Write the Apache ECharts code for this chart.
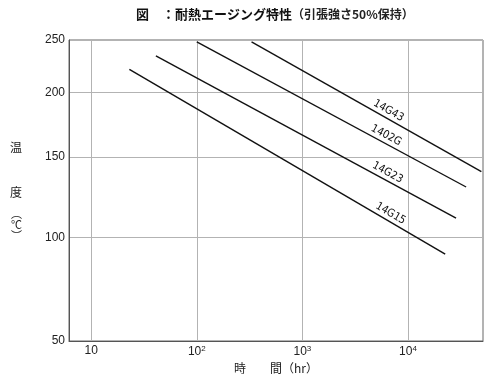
<!DOCTYPE html>
<html>
<head>
<meta charset="utf-8">
<script src="https://cdn.jsdelivr.net/npm/echarts@6/dist/echarts.min.js"></script>
<style>html,body{margin:0;padding:0;background:#fff;}#c{width:500px;height:382px;}</style>
</head>
<body>
<div id="c"></div>
<script>
// ---- data ----
const seriesNames = ['14G43', '1402G', '14G23', '14G15'];
const startHours = [330, 100, 41, 23];
const startTemps = [248, 248, 234, 221];
const endHours = [49500, 35500, 28500, 22500];
const endTemps = [140, 130, 111, 91];
const yTicks = [50, 100, 150, 200, 250];
const xTicks = [10, 100, 1000, 10000];
const xTickLabels = ['10', '10|2', '10|3', '10|4'];

// Arrhenius-type temperature scale (reciprocal temperature)
const OFFS = 300;
const f = T => 1000 / (T + OFFS);
const finv = u => 1000 / u - OFFS;

const labelFont = '"DejaVu Sans Condensed","Liberation Sans Narrow","DejaVu Sans",sans-serif';
const baseFont = '"Liberation Sans","Noto Sans CJK JP",sans-serif';

const series = seriesNames.map((name, i) => ({
  name: name,
  type: 'line',
  symbol: 'none',
  silent: true,
  lineStyle: { color: '#111', width: 1.4 },
  data: [[startHours[i], f(startTemps[i])], [endHours[i], f(endTemps[i])]]
}));

const option = {
  animation: false,
  backgroundColor: '#fff',
  title: {
    text: '{b|図　：耐熱エージング特性}{n|（引張強さ50%保持）}',
    left: 131, top: 3,
    textStyle: {
      rich: {
        b: { fontSize: 13, fontWeight: 'bold', color: '#111', fontFamily: '"Noto Sans CJK JP",sans-serif' },
        n: { fontSize: 12, color: '#222', fontFamily: '"Noto Sans CJK JP",sans-serif' }
      }
    }
  },
  grid: { left: 69, right: 17, top: 40, bottom: 41, show: true, borderColor: '#666', borderWidth: 1, containLabel: false },
  xAxis: {
    type: 'log', logBase: 10,
    min: Math.pow(10, 0.79), max: Math.pow(10, 4.71),
    name: '時　　間（hr）', nameLocation: 'middle', nameGap: 15,
    nameTextStyle: { fontSize: 12, color: '#222', fontFamily: '"Noto Sans CJK JP",sans-serif' },
    axisLine: { lineStyle: { color: '#555', width: 1 } },
    axisTick: { show: false },
    splitLine: { show: true, lineStyle: { color: '#b3b3b3', width: 1 } },
    axisLabel: {
      margin: 4, color: '#222', fontSize: 12, fontFamily: baseFont,
      showMinLabel: false, showMaxLabel: false,
      formatter: v => {
        const k = xTicks.findIndex(t => Math.abs(t - v) / t < 1e-6);
        if (k < 0) return '';
        const parts = xTickLabels[k].split('|');
        return parts.length > 1 ? '{m|' + parts[0] + '}{s|' + parts[1] + '}' : '{m|' + parts[0] + '}';
      },
      rich: {
        m: { fontSize: 12, fontFamily: baseFont, color: '#222' },
        s: { fontSize: 8, fontFamily: baseFont, color: '#222', padding: [0, 0, 6, 0] }
      }
    }
  },
  yAxis: {
    type: 'value', inverse: true,
    min: f(250), max: f(50),
    name: '{a|温}\n{a| }\n{a| }\n{a|度}\n{c| }\n{b|︵}\n{b|℃}\n{b|︶}',
    nameLocation: 'middle', nameRotate: 0, nameGap: 47,
    nameTextStyle: {
      color: '#222',
      rich: {
        a: { fontSize: 12, lineHeight: 15, color: '#222', fontFamily: '"Noto Sans CJK JP",sans-serif' },
        b: { fontSize: 11, lineHeight: 11, color: '#222', fontFamily: '"Noto Sans CJK JP",sans-serif' },
        c: { fontSize: 8, lineHeight: 8 }
      }
    },
    axisLine: { show: true, lineStyle: { color: '#555', width: 1 } },
    axisTick: { show: false, customValues: yTicks.map(f) },
    splitLine: { show: true, lineStyle: { color: '#b3b3b3', width: 1 } },
    axisLabel: {
      customValues: yTicks.map(f),
      margin: 4, color: '#222', fontSize: 12, fontFamily: baseFont,
      formatter: v => String(Math.round(finv(v)))
    }
  },
  series: series
};

const chart = echarts.init(document.getElementById('c'), null, { renderer: 'canvas' });
chart.setOption(option);

// line labels placed along each line, computed from its data endpoints
const labelAt = [0.58, 0.69, 0.76, 0.815];
const graphics = seriesNames.map((name, i) => {
  const p0 = chart.convertToPixel({ gridIndex: 0 }, [startHours[i], f(startTemps[i])]);
  const p1 = chart.convertToPixel({ gridIndex: 0 }, [endHours[i], f(endTemps[i])]);
  const a = Math.atan2(p1[1] - p0[1], p1[0] - p0[0]);
  const t = labelAt[i];
  const px = p0[0] + (p1[0] - p0[0]) * t + Math.sin(a) * 2;
  const py = p0[1] + (p1[1] - p0[1]) * t - Math.cos(a) * 2;
  return {
    type: 'text', x: px, y: py, rotation: -a, silent: true,
    style: { text: name, fill: '#111', font: '11px ' + labelFont, textAlign: 'center', textVerticalAlign: 'bottom' }
  };
});
chart.setOption({ graphic: graphics });
</script>
</body>
</html>
